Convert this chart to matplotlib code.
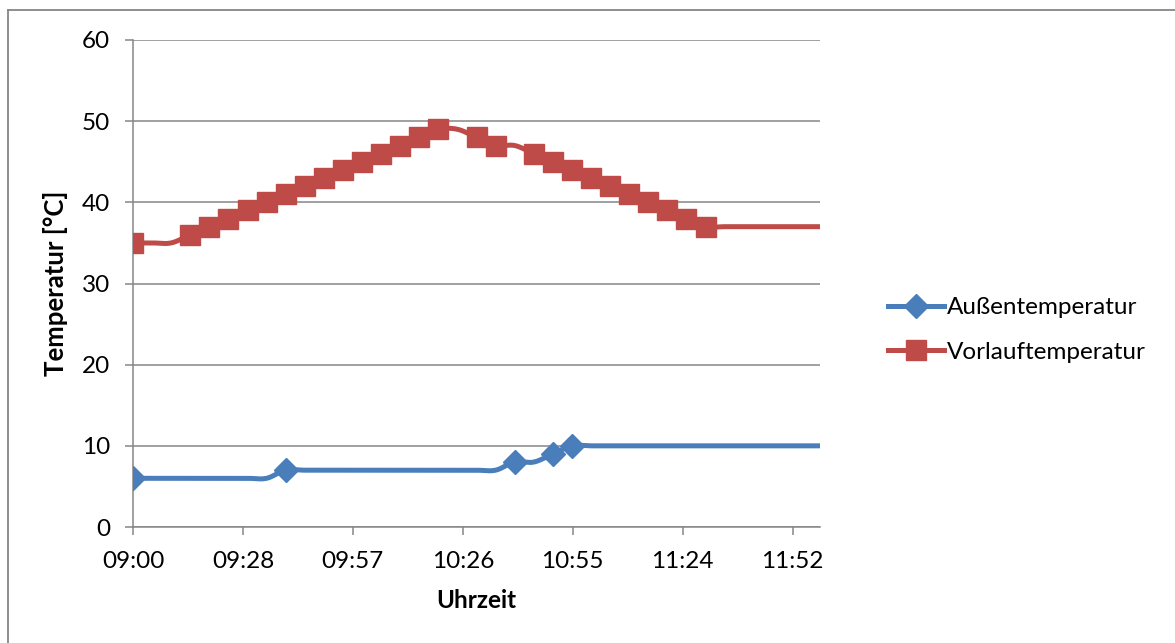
import numpy as np
import matplotlib
matplotlib.use("Agg")
from matplotlib import pyplot as plt
from matplotlib.lines import Line2D
from matplotlib.ticker import FixedLocator, FuncFormatter

plt.rcParams['font.family'] = ['Lato', 'DejaVu Sans']

# Messwerte alle 5 Minuten (Minuten seit Mitternacht)
zeit = [540, 545, 550, 555, 560, 565, 570, 575, 580, 585, 590, 595, 600,
        605, 610, 615, 620, 625, 630, 635, 640, 645, 650, 655, 660, 665,
        670, 675, 680, 685, 690, 695, 700, 705, 710, 715, 720]
aussen = [6, 6, 6, 6, 6, 6, 6, 6, 7, 7, 7, 7, 7,
          7, 7, 7, 7, 7, 7, 7, 8, 8, 9, 10, 10, 10,
          10, 10, 10, 10, 10, 10, 10, 10, 10, 10, 10]
vorlauf = [35, 35, 35, 36, 37, 38, 39, 40, 41, 42, 43, 44, 45,
           46, 47, 48, 49, 49, 48, 47, 47, 46, 45, 44, 43, 42,
           41, 40, 39, 38, 37, 37, 37, 37, 37, 37, 37]
namen = ['Außentemperatur', 'Vorlauftemperatur']

blau = '#4A7EBB'
rot = '#BE4B48'
grau = '#868686'
fs = 17.5


def glatt(x, y, n=30):
    # Bezier-Glaettung wie in Excel (Catmull-Rom, Tension 1/6)
    x = np.asarray(x, float)
    y = np.asarray(y, float)
    px = np.concatenate([[x[0]], x, [x[-1]]])
    py = np.concatenate([[y[0]], y, [y[-1]]])
    t = np.linspace(0, 1, n)
    xs, ys = [], []
    for i in range(1, len(px) - 2):
        x0, y0 = px[i], py[i]
        x3, y3 = px[i + 1], py[i + 1]
        x1 = x0 + (px[i + 1] - px[i - 1]) / 6
        y1 = y0 + (py[i + 1] - py[i - 1]) / 6
        x2 = x3 - (px[i + 2] - px[i]) / 6
        y2 = y3 - (py[i + 2] - py[i]) / 6
        b0 = (1 - t) ** 3
        b1 = 3 * (1 - t) ** 2 * t
        b2 = 3 * (1 - t) * t ** 2
        b3 = t ** 3
        xs.append(b0 * x0 + b1 * x1 + b2 * x2 + b3 * x3)
        ys.append(b0 * y0 + b1 * y1 + b2 * y2 + b3 * y3)
    return np.concatenate(xs), np.concatenate(ys)


def wechsel(y):
    # Marker nur am Anfang und wo sich der Wert aendert
    return [i for i in range(len(y)) if i == 0 or y[i] != y[i - 1]]


fig = plt.figure(figsize=(11.75, 6.43), dpi=100)
ax = fig.add_axes([133 / 1175, 1 - 527 / 643, 687 / 1175, 487 / 643])

for werte, farbe, mk, ms in [(aussen, blau, 'D', 12.5), (vorlauf, rot, 's', 14.5)]:
    gx, gy = glatt(zeit, werte)
    ax.plot(gx, gy, color=farbe, lw=3.6, solid_capstyle='round', zorder=3)
    idx = wechsel(werte)
    ax.plot([zeit[i] for i in idx], [werte[i] for i in idx], ls='none',
            marker=mk, ms=ms, color=farbe, mec=farbe, zorder=4)

ax.set_xlim(540, 720)
ax.set_ylim(0, 60)
ax.set_yticks(range(0, 61, 10))
ax.xaxis.set_major_locator(FixedLocator([540 + 28.8 * k for k in range(7)]))
ax.xaxis.set_major_formatter(FuncFormatter(
    lambda v, p: '%02d:%02d' % (int(v + 1e-6) // 60, int(v + 1e-6) % 60)))

ax.grid(axis='y', color=grau, lw=1.1)
ax.set_axisbelow(True)
for s in ['top', 'right']:
    ax.spines[s].set_visible(False)
for s in ['left', 'bottom']:
    ax.spines[s].set_color(grau)
    ax.spines[s].set_linewidth(1.1)
ax.tick_params(axis='both', colors=grau, labelcolor='black', labelsize=fs,
               width=1.1, length=5.5)
ax.tick_params(axis='y', pad=11)
ax.tick_params(axis='x', pad=12)

ax.set_ylabel('Temperatur [°C]', fontsize=fs + 1, fontweight='bold', labelpad=10)
ax.set_xlabel('Uhrzeit', fontsize=fs, fontweight='bold', labelpad=12)

griffe = [Line2D([], [], color=blau, lw=3.6, marker='D', ms=12.5),
          Line2D([], [], color=rot, lw=3.6, marker='s', ms=14.5)]
fig.legend(griffe, namen, loc='center left', bbox_to_anchor=(878 / 1175, 1 - 330 / 643),
           frameon=False, fontsize=fs, handlelength=2.3, handletextpad=0.15,
           labelspacing=0.95, numpoints=1, borderaxespad=0)

# Rahmen des Diagrammbereichs
fig.add_artist(Line2D([8 / 1175, 8 / 1175], [0, 1 - 10 / 643], color=grau, lw=1.3,
                      transform=fig.transFigure))
fig.add_artist(Line2D([8 / 1175, 1], [1 - 10 / 643, 1 - 10 / 643], color=grau, lw=1.3,
                      transform=fig.transFigure))

fig.savefig('out.png', dpi=100)
